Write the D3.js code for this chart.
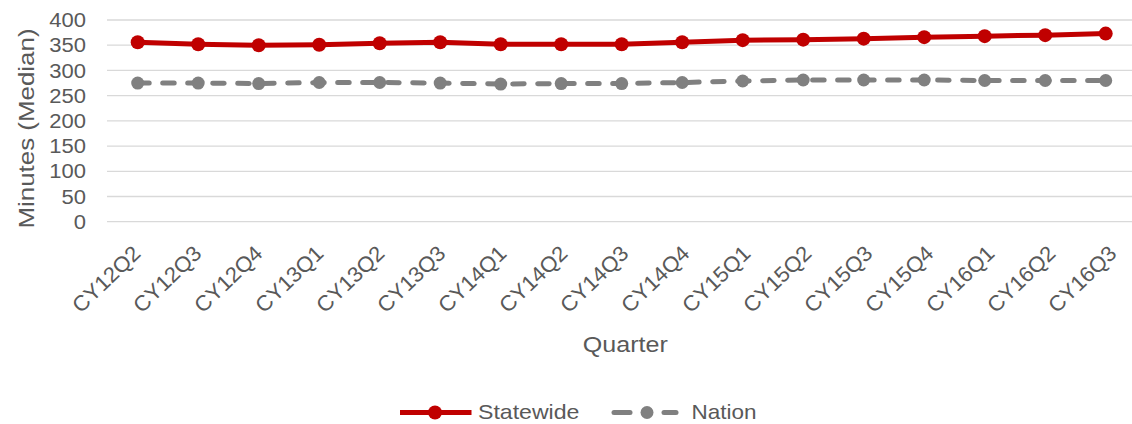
<!DOCTYPE html>
<html><head><meta charset="utf-8">
<script src="https://cdn.jsdelivr.net/npm/d3@7"></script>
<style>body{margin:0;background:#fff}svg{display:block}text{font-family:"Liberation Sans",Arial,sans-serif;fill:#595959}</style>
</head><body><svg id="c" width="1132" height="424"></svg>
<script>
const categories = ["CY12Q2","CY12Q3","CY12Q4","CY13Q1","CY13Q2","CY13Q3","CY14Q1","CY14Q2","CY14Q3","CY14Q4","CY15Q1","CY15Q2","CY15Q3","CY15Q4","CY16Q1","CY16Q2","CY16Q3"];
const statewide = [356,352,350,351,354,356,352,352,352,356,360,361,363,366,368,370,373];
const nation = [275,275,274,276,276,275,273,274,274,276,279,281,281,281,280,280,280];
const yTicks = [0,50,100,150,200,250,300,350,400];
const seriesNames = ["Statewide","Nation"];

const SX = 1.1; // horizontal text stretch seen in the reference
function stretch(sel, k) {
  sel.each(function(){ const w = this.getComputedTextLength();
    d3.select(this).attr("textLength", w*k).attr("lengthAdjust","spacingAndGlyphs"); });
}
const svg = d3.select("#c");
const x = d3.scalePoint().domain(categories).range([137.7, 1105.7]);
const xLab = d3.scalePoint().domain(categories).range([136.7, 1112.7]);
const y = d3.scaleLinear().domain([0,400]).range([221.7, 20]);
const gridLeft = 107, gridRight = 1136;

svg.append("g").selectAll("line").data(yTicks).join("line")
  .attr("x1", gridLeft).attr("x2", gridRight)
  .attr("y1", d=>y(d)).attr("y2", d=>y(d))
  .attr("stroke", "#d9d9d9").attr("stroke-width", 1.3);

svg.append("g").selectAll("text").data(yTicks).join("text")
  .attr("x", 86).attr("y", d=>y(d)).attr("dy","0.36em")
  .attr("text-anchor","end").style("font-size","20px").text(d=>d).call(stretch, SX);

svg.append("text").attr("transform","translate(34,128.5) rotate(-90)")
  .attr("text-anchor","middle").style("font-size","22px")
  .attr("textLength", 200).attr("lengthAdjust","spacingAndGlyphs").text("Minutes (Median)");

svg.append("g").selectAll("text").data(categories).join("text")
  .attr("transform", d=>`translate(${xLab(d)},249.5) rotate(-44)`)
  .attr("text-anchor","end").attr("dy","0.35em").style("font-size","21.5px").text(d=>d).call(stretch, 1.03);

svg.append("text").attr("x",625.3).attr("y",351.5)
  .attr("text-anchor","middle").style("font-size","22.8px").text("Quarter").call(stretch, SX);

const line = d3.line().x((d,i)=>x(categories[i])).y(d=>y(d));
const gN = svg.append("g");
gN.append("path").datum(nation).attr("d", line).attr("fill","none")
  .attr("stroke","#808080").attr("stroke-width",5).attr("stroke-linecap","round")
  .attr("stroke-dasharray","11.5,13.5");
gN.selectAll("circle").data(nation).join("circle")
  .attr("cx",(d,i)=>x(categories[i])).attr("cy",d=>y(d)).attr("r",6.5).attr("fill","#808080");

const gS = svg.append("g");
gS.append("path").datum(statewide).attr("d", line).attr("fill","none")
  .attr("stroke","#C00000").attr("stroke-width",5);
gS.selectAll("circle").data(statewide).join("circle")
  .attr("cx",(d,i)=>x(categories[i])).attr("cy",d=>y(d)).attr("r",7).attr("fill","#C00000");

// legend
const ly = 412.5;
const lg = svg.append("g");
lg.append("line").attr("x1",400).attr("x2",471.5).attr("y1",ly).attr("y2",ly).attr("stroke","#C00000").attr("stroke-width",5);
lg.append("circle").attr("cx",435).attr("cy",ly).attr("r",7).attr("fill","#C00000");
lg.append("text").attr("x",478).attr("y",419).style("font-size","21px").text(seriesNames[0]).call(stretch, 1.1);
[[614,630],[664,676]].forEach(([a,b])=>lg.append("line").attr("x1",a).attr("x2",b).attr("y1",ly).attr("y2",ly)
  .attr("stroke","#808080").attr("stroke-width",5).attr("stroke-linecap","round"));
lg.append("circle").attr("cx",647).attr("cy",ly).attr("r",6.5).attr("fill","#808080");
lg.append("text").attr("x",691.5).attr("y",419).style("font-size","21px").text(seriesNames[1]).call(stretch, 1.07);
</script></body></html>
